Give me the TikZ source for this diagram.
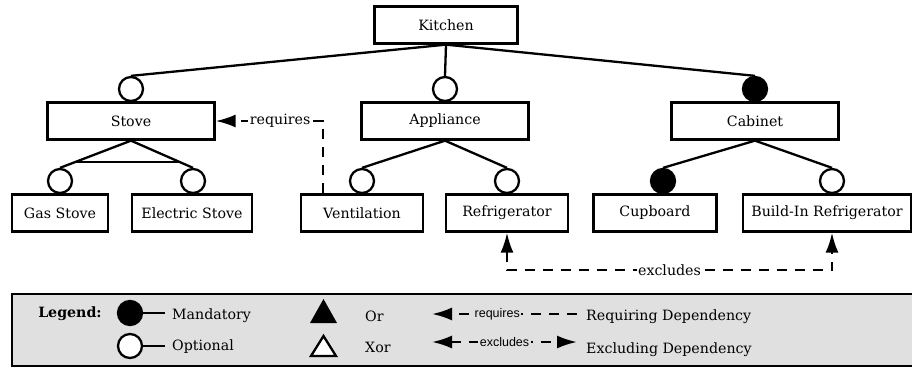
\documentclass[tikz,border=0pt]{standalone}
\usepackage{fontspec}
\setmainfont{DejaVu Serif}
\newfontfamily\legsans{Liberation Sans}
\usetikzlibrary{calc}
\usetikzlibrary{arrows.meta}

\begin{document}
\begin{tikzpicture}[x=1pt,y=-1pt,>={Latex[length=20pt,width=13pt]},
  feat/.style={draw,line width=2.3pt,minimum height=37pt,inner sep=0pt,font=\fontsize{14.2}{16}\selectfont},
  edge/.style={line width=2.3pt},
  dep/.style={line width=2.3pt,dash pattern=on 10pt off 8pt},
  mand/.style={circle,draw,fill=black,line width=2.3pt,minimum size=24pt,inner sep=0pt},
  opt/.style={mand,fill=white},
  lbl/.style={fill=white,inner sep=1.5pt,font=\fontsize{14.2}{16}\selectfont},
  legtext/.style={anchor=west,inner sep=0pt,font=\fontsize{14.2}{16}\selectfont},
  legsmall/.style={fill=black!12,inner sep=1.5pt,font=\legsans\fontsize{12.5}{14}\selectfont}]
  % Boundary
  \path[use as bounding box] (0,0) rectangle (912,367);
  % Features
  \node[feat,minimum width=143pt] (kitchen) at (446,25) {Kitchen};
  \node[feat,minimum width=167pt] (stove) at (131,121) {Stove};
  \node[feat,minimum width=167pt] (appl) at (445,121) {Appliance};
  \node[feat,minimum width=167pt] (cabinet) at (755,121) {Cabinet};
  \node[feat,minimum width=96pt] (gas) at (60,213) {Gas Stove};
  \node[feat,minimum width=120pt] (elec) at (192,213) {Electric Stove};
  \node[feat,minimum width=122pt] (vent) at (362,213) {Ventilation};
  \node[feat,minimum width=122pt] (fridge) at (507,213) {Refrigerator};
  \node[feat,minimum width=123pt] (cupboard) at (655,213) {Cupboard};
  \node[feat,minimum width=168pt] (bifridge) at (827,213) {Build-In Refrigerator};
  % Circles
  \node[opt] (stovec) at (131,89) {};
  \node[opt] (applc) at (445,89) {};
  \node[mand] (cabinetc) at (755,89) {};
  \node[opt] (gasc) at (60,181) {};
  \node[opt] (elecc) at (193,181) {};
  \node[opt] (ventc) at (362,181) {};
  \node[opt] (fridgec) at (507,181) {};
  \node[mand] (cupboardc) at (663,181) {};
  \node[opt] (bifridgec) at (832,181) {};
  % Tree edges
  \draw[edge] (kitchen.south) -- (stovec.north);
  \draw[edge] (kitchen.south) -- (applc.north);
  \draw[edge] (kitchen.south) -- (cabinetc.north);
  \draw[edge] (stove.south) -- (gasc.north);
  \draw[edge] (stove.south) -- (elecc.north);
  \draw[edge] ($(stove.south)!0.78!(gasc.north)$) -- ($(stove.south)!0.78!(elecc.north)$);
  \draw[edge] (appl.south) -- (ventc.north);
  \draw[edge] (appl.south) -- (fridgec.north);
  \draw[edge] (cabinet.south) -- (cupboardc.north);
  \draw[edge] (cabinet.south) -- (bifridgec.north);
  % Dependencies
  \coordinate (reqbend) at (323,121);
  \draw[dep,->] (vent.north -| reqbend) -- (reqbend) -- node[lbl,pos=0.4] {requires} (stove.east);
  \coordinate (exl) at (507,270);
  \coordinate (exr) at (832,270);
  \draw[dep,<->] (fridge.south) -- (exl) -- node[lbl] {excludes} (exr) -- (bifridge.south -| exr);
  % Legend
  \draw[line width=2.3pt,fill=black!12] (12,294) rectangle (930,366);
  \node[font=\bfseries\fontsize{14.2}{16}\selectfont] (legend) at (70,314) {Legend:};
  \node[mand] (legmand) at (130,313) {};
  \node[opt] (legopt) at (130,346) {};
  \coordinate (legmandend) at (165,313);
  \coordinate (legoptend) at (165,346);
  \draw[edge] (legmand.east) -- (legmandend);
  \draw[edge] (legopt.east) -- (legoptend);
  \node[legtext] (mandtext) at (172,316) {Mandatory};
  \node[legtext] (opttext) at (172,347) {Optional};
  \fill (310,323) -- (337,323) -- (323.5,299) -- cycle;
  \draw[line width=2.3pt,fill=white] (311,356) -- (336,356) -- (323.5,336) -- cycle;
  \node[legtext] (ortext) at (365,316) {Or};
  \node[legtext] (xortext) at (365,347) {Xor};
  \coordinate (legreql) at (432,314);
  \coordinate (legreqr) at (577,314);
  \coordinate (legexl) at (432,342);
  \coordinate (legexr) at (577,342);
  \draw[dep,->] (legreqr) -- node[legsmall,pos=0.55] {requires} (legreql);
  \draw[dep,<->] (legexl) -- node[legsmall] {excludes} (legexr);
  \node[legtext] (reqtext) at (586,317) {Requiring Dependency};
  \node[legtext] (extext) at (586,350) {Excluding Dependency};
\end{tikzpicture}
\end{document}
